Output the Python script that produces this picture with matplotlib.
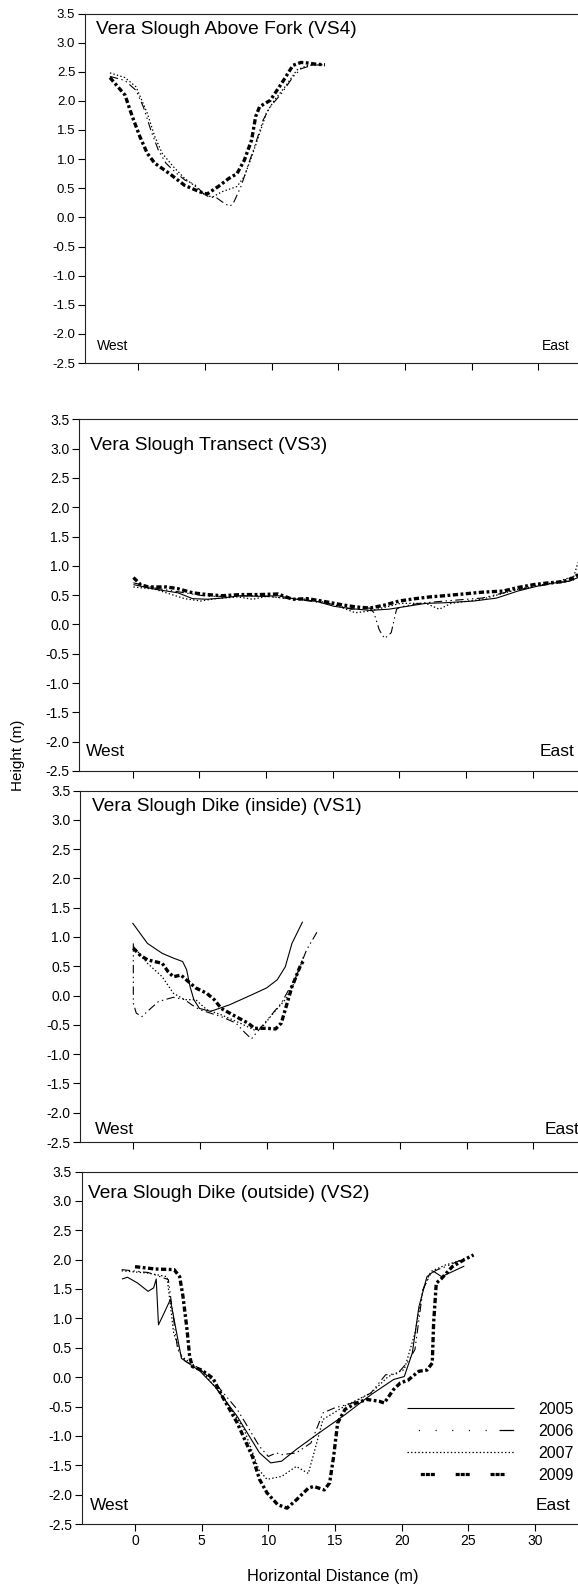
import matplotlib
matplotlib.use("Agg")
import matplotlib.pyplot as plt
from matplotlib.lines import Line2D

plt.rcParams['font.family'] = ['Liberation Sans', 'DejaVu Sans']
plt.rcParams['lines.scale_dashes'] = False

# ---------------- data ----------------
years = ['2005', '2006', '2007', '2009']

# Panel 1: Vera Slough Above Fork (VS4)
vs4_2006_x = [-2.13, -1.0, -0.17, 0.39, 0.95, 1.51, 2.07, 2.9, 3.5, 3.9, 4.3, 4.87, 5.3, 5.85, 6.27, 6.83, 7.1, 7.7, 8.2, 8.8, 9.36, 9.9, 10.75, 11.6, 12.2, 13.0, 13.8]
vs4_2006_y = [2.42, 2.35, 2.18, 1.89, 1.49, 1.15, 0.93, 0.75, 0.64, 0.60, 0.55, 0.41, 0.35, 0.34, 0.27, 0.19, 0.23, 0.53, 0.87, 1.27, 1.67, 1.90, 2.13, 2.41, 2.55, 2.61, 2.62]
vs4_2007_x = [-2.13, -1.0, -0.17, 0.67, 1.23, 1.79, 2.63, 3.47, 4.3, 5.0, 5.57, 6.27, 7.4, 7.95, 8.5, 9.1, 9.6, 10.2, 11.0, 11.9, 12.7, 13.8]
vs4_2007_y = [2.48, 2.40, 2.24, 1.79, 1.39, 1.10, 0.87, 0.67, 0.53, 0.38, 0.35, 0.44, 0.53, 0.70, 1.04, 1.44, 1.79, 2.01, 2.24, 2.53, 2.61, 2.62]
vs4_2009_x = [-2.13, -1.0, -0.45, 0.11, 0.67, 1.23, 2.35, 3.47, 4.6, 5.15, 6.0, 6.8, 7.4, 7.95, 8.5, 8.8, 9.1, 9.9, 10.75, 11.6, 12.2, 12.7, 13.3, 14.0]
vs4_2009_y = [2.40, 2.10, 1.73, 1.39, 1.10, 0.93, 0.75, 0.55, 0.44, 0.40, 0.53, 0.67, 0.75, 0.98, 1.33, 1.73, 1.90, 2.01, 2.30, 2.61, 2.66, 2.65, 2.63, 2.62]

# Panel 2: Vera Slough Transect (VS3)
vs3_2005_x = [0.06, 1.7, 3.4, 4.5, 5.6, 6.7, 8.1, 9.5, 10.9, 12.3, 13.7, 15.1, 16.4, 17.8, 19.2, 20.6, 22.0, 23.4, 25.6, 27.3, 28.9, 30.3, 31.7, 32.8, 33.6, 34.5]
vs3_2005_y = [0.68, 0.60, 0.54, 0.44, 0.43, 0.45, 0.49, 0.48, 0.49, 0.43, 0.40, 0.31, 0.27, 0.24, 0.26, 0.31, 0.36, 0.37, 0.40, 0.45, 0.57, 0.65, 0.71, 0.74, 0.82, 0.95]
vs3_2006_x = [0.06, 1.7, 3.9, 5.6, 6.7, 9.5, 12.3, 15.1, 16.4, 17.8, 18.1, 18.5, 18.9, 19.4, 19.8, 20.1, 21.5, 23.4, 26.2, 28.4, 30.3, 31.7, 33.0, 33.6, 34.5]
vs3_2006_y = [0.71, 0.62, 0.54, 0.48, 0.48, 0.49, 0.43, 0.34, 0.26, 0.28, 0.20, -0.09, -0.24, -0.14, 0.26, 0.30, 0.36, 0.40, 0.45, 0.57, 0.65, 0.70, 0.75, 0.83, 0.95]
vs3_2007_x = [0.06, 1.7, 3.9, 5.1, 6.2, 7.9, 9.0, 10.1, 11.7, 13.4, 15.1, 16.7, 17.8, 20.1, 22.0, 23.0, 23.9, 26.2, 28.9, 31.7, 33.1, 33.4, 34.0]
vs3_2007_y = [0.64, 0.60, 0.44, 0.40, 0.44, 0.47, 0.43, 0.48, 0.44, 0.43, 0.34, 0.20, 0.23, 0.36, 0.36, 0.26, 0.36, 0.43, 0.60, 0.72, 0.82, 1.05, 1.15]
vs3_2009_x = [0.06, 0.6, 1.17, 2.56, 3.4, 4.5, 5.6, 6.7, 8.1, 9.5, 10.9, 12.0, 13.1, 14.2, 15.6, 16.7, 17.8, 18.9, 20.0, 21.2, 22.3, 23.4, 24.8, 26.2, 27.8, 28.9, 30.1, 31.2, 32.3, 33.1, 33.6, 34.5]
vs3_2009_y = [0.80, 0.68, 0.64, 0.64, 0.61, 0.54, 0.51, 0.49, 0.51, 0.51, 0.52, 0.43, 0.44, 0.40, 0.34, 0.30, 0.28, 0.33, 0.40, 0.44, 0.47, 0.49, 0.52, 0.55, 0.57, 0.63, 0.68, 0.71, 0.73, 0.80, 0.88, 1.0]

# Panel 3: Vera Slough Dike (inside) (VS1)
vs1_2005_x = [-0.06, 1.06, 2.17, 3.0, 3.7, 4.0, 4.26, 4.54, 4.96, 5.8, 7.2, 8.86, 10.0, 10.8, 11.4, 11.9, 12.7]
vs1_2005_y = [1.24, 0.89, 0.72, 0.64, 0.58, 0.44, 0.15, -0.07, -0.22, -0.27, -0.16, 0.01, 0.13, 0.27, 0.49, 0.89, 1.26]
vs1_2006_x = [0.0, 0.0, 0.22, 0.64, 1.06, 1.9, 3.0, 3.84, 4.4, 4.96, 6.6, 7.7, 8.4, 8.86, 9.4, 10.25, 11.1, 12.2, 13.0, 13.8]
vs1_2006_y = [0.89, -0.13, -0.30, -0.36, -0.27, -0.10, -0.03, -0.07, -0.16, -0.24, -0.36, -0.47, -0.64, -0.74, -0.59, -0.36, -0.13, 0.32, 0.78, 1.09]
vs1_2007_x = [0.0, 1.06, 2.17, 3.0, 3.84, 4.68, 5.5, 6.6, 8.0, 9.1, 9.7, 10.5, 11.4, 12.2, 12.76]
vs1_2007_y = [0.84, 0.55, 0.32, 0.04, -0.07, -0.07, -0.24, -0.33, -0.47, -0.59, -0.53, -0.30, -0.07, 0.27, 0.66]
vs1_2009_x = [0.0, 0.5, 1.06, 1.6, 2.17, 2.6, 3.0, 3.57, 4.12, 4.68, 5.5, 6.07, 6.6, 7.7, 8.6, 9.1, 10.0, 10.67, 11.1, 11.4, 11.9, 12.5, 12.8]
vs1_2009_y = [0.81, 0.69, 0.61, 0.58, 0.55, 0.41, 0.32, 0.35, 0.24, 0.13, 0.04, -0.07, -0.22, -0.36, -0.47, -0.56, -0.56, -0.57, -0.47, -0.24, 0.15, 0.49, 0.61]

# Panel 4: Vera Slough Dike (outside) (VS2)
vs2_2005_x = [-0.98, -0.56, 0.2, 0.98, 1.4, 1.59, 1.76, 2.2, 2.65, 3.0, 3.48, 4.88, 5.99, 7.67, 9.34, 10.18, 11.0, 12.1, 13.8, 15.75, 17.7, 19.4, 20.2, 20.8, 21.3, 21.9, 22.4, 23.0, 24.7]
vs2_2005_y = [1.67, 1.70, 1.60, 1.46, 1.52, 1.67, 0.89, 1.10, 1.32, 0.90, 0.32, 0.10, -0.16, -0.67, -1.29, -1.46, -1.43, -1.23, -0.95, -0.64, -0.30, -0.04, 0.01, 0.41, 1.20, 1.71, 1.80, 1.71, 1.89]
vs2_2006_x = [-1.0, 1.0, 2.5, 2.7, 3.2, 3.76, 4.9, 6.0, 7.67, 9.34, 10.0, 10.6, 11.0, 12.1, 13.2, 14.1, 14.9, 16.3, 17.7, 18.8, 19.7, 20.5, 21.0, 21.6, 22.2, 22.7, 23.3, 24.7]
vs2_2006_y = [1.83, 1.78, 1.66, 1.32, 0.47, 0.27, 0.13, -0.10, -0.55, -1.18, -1.35, -1.29, -1.32, -1.29, -1.12, -0.61, -0.53, -0.44, -0.27, 0.04, 0.06, 0.27, 0.47, 1.49, 1.77, 1.83, 1.88, 2.02]
vs2_2007_x = [-1.0, 1.0, 2.4, 2.9, 3.5, 4.9, 6.6, 8.2, 9.3, 9.9, 11.0, 12.1, 13.0, 13.5, 14.1, 15.75, 17.7, 19.0, 20.2, 21.0, 21.6, 22.2, 23.3, 24.7]
vs2_2007_y = [1.81, 1.77, 1.71, 0.75, 0.35, 0.13, -0.33, -0.90, -1.58, -1.74, -1.69, -1.52, -1.64, -1.23, -0.72, -0.49, -0.27, 0.01, 0.13, 0.75, 1.49, 1.80, 1.91, 2.00]
vs2_2009_x = [0.0, 1.53, 2.93, 3.35, 3.6, 3.9, 4.1, 4.3, 5.0, 5.85, 6.55, 7.67, 8.8, 9.34, 9.9, 10.7, 11.4, 12.1, 13.0, 13.4, 14.2, 14.6, 14.9, 15.2, 15.75, 16.6, 17.4, 18.3, 18.7, 19.4, 19.9, 20.5, 20.8, 21.3, 21.9, 22.3, 22.4, 22.6, 23.0, 23.8, 24.7, 25.4]
vs2_2009_y = [1.88, 1.84, 1.83, 1.71, 1.37, 0.81, 0.35, 0.18, 0.12, -0.02, -0.33, -0.78, -1.35, -1.74, -1.97, -2.17, -2.23, -2.09, -1.89, -1.86, -1.92, -1.80, -1.35, -0.78, -0.55, -0.44, -0.38, -0.41, -0.44, -0.21, -0.10, -0.05, 0.01, 0.10, 0.12, 0.24, 0.92, 1.60, 1.68, 1.88, 2.00, 2.08]

titles = ['Vera Slough Above Fork (VS4)', 'Vera Slough Transect (VS3)',
          'Vera Slough Dike (inside) (VS1)', 'Vera Slough Dike (outside) (VS2)']
yticks = [-2.5, -2.0, -1.5, -1.0, -0.5, 0.0, 0.5, 1.0, 1.5, 2.0, 2.5, 3.0, 3.5]
xticks = [0, 5, 10, 15, 20, 25, 30]

panels = [
    {'2006': (vs4_2006_x, vs4_2006_y), '2007': (vs4_2007_x, vs4_2007_y), '2009': (vs4_2009_x, vs4_2009_y)},
    {'2005': (vs3_2005_x, vs3_2005_y), '2006': (vs3_2006_x, vs3_2006_y), '2007': (vs3_2007_x, vs3_2007_y), '2009': (vs3_2009_x, vs3_2009_y)},
    {'2005': (vs1_2005_x, vs1_2005_y), '2006': (vs1_2006_x, vs1_2006_y), '2007': (vs1_2007_x, vs1_2007_y), '2009': (vs1_2009_x, vs1_2009_y)},
    {'2005': (vs2_2005_x, vs2_2005_y), '2006': (vs2_2006_x, vs2_2006_y), '2007': (vs2_2007_x, vs2_2007_y), '2009': (vs2_2009_x, vs2_2009_y)},
]

# ---------------- styles ----------------
styles = {
    '2005': dict(lw=0.8, ls='-'),
    '2006': dict(lw=0.8, ls=(0, (6, 2.5, 1, 2.5, 1, 2.5))),
    '2007': dict(lw=0.9, ls=(0, (1, 1.6))),
    '2009': dict(lw=2.4, ls=(0, (3.8, 1.8, 2.0, 1.8))),
}
legend_styles = {
    '2005': dict(lw=0.8, ls='-'),
    '2006': dict(lw=0.9, ls=(68.6, (0.8, 11.2, 0.8, 11.2, 0.8, 11.2, 0.8, 11.2, 0.8, 9.3, 10.5, 8.2))),
    '2007': dict(lw=0.9, ls=(0, (1, 1.6))),
    '2009': dict(lw=2.3, ls=(15.5, (2.9, 0.7, 2.9, 0.7, 2.9, 15.0))),
}

W, H = 578, 1590
fig = plt.figure(figsize=(W / 100, H / 100), dpi=100)

px_per_unit = 13.33
xlo, xhi = -4, 35
# left, top, bottom in pixels
boxes = [(85, 13.5, 363), (79.3, 419.3, 771), (80, 790.5, 1142), (81.7, 1171.5, 1524)]
title_pos = [(96, 30), (90, 445), (92, 807), (88.5, 1193)]
west_pos = [(97, 346), (86, 751.7), (95, 1129), (90, 1505)]
east_x = [542, 540, 545, 536]
tick_fs = [9.5, 10, 10, 10]
we_fs = [10, 12.5, 12.5, 12.5]

axes = []
for i, (left, top, bot) in enumerate(boxes):
    wpx = (xhi - xlo) * px_per_unit
    ax = fig.add_axes([left / W, 1 - bot / H, wpx / W, (bot - top) / H])
    axes.append(ax)
    for yr in years:
        if yr in panels[i]:
            xs, ys = panels[i][yr]
            ax.plot(xs, ys, color='black', solid_capstyle='butt', dash_capstyle='butt', **styles[yr])
    ax.set_xlim(xlo, xhi)
    ax.set_ylim(-2.5, 3.5)
    ax.set_yticks(yticks)
    ax.set_yticklabels([f'{v:.1f}' for v in yticks])
    ax.set_xticks(xticks)
    if i == 3:
        ax.set_xticklabels([str(v) for v in xticks])
    else:
        ax.set_xticklabels([])
    ax.tick_params(direction='out', length=5, width=0.8, labelsize=tick_fs[i], pad=2, colors='black')
    for s in ax.spines.values():
        s.set_linewidth(0.8)
        s.set_color('#222222')
    hpx = bot - top
    def fx(X):
        return (X - left) / wpx
    def fy(Y):
        return (bot - Y) / hpx
    tx, ty = title_pos[i]
    ax.text(fx(tx), fy(ty), titles[i], transform=ax.transAxes, fontsize=13.8, ha='left', va='center')
    wx, wy = west_pos[i]
    ax.text(fx(wx), fy(wy), 'West', transform=ax.transAxes, fontsize=we_fs[i], ha='left', va='center')
    ax.text(fx(east_x[i]), fy(wy), 'East', transform=ax.transAxes, fontsize=we_fs[i], ha='left', va='center', clip_on=False)

# legend in bottom panel
ax4 = axes[3]
handles = [Line2D([], [], color='black', solid_capstyle='butt', dash_capstyle='butt', **legend_styles[yr]) for yr in years]
left, top, bot = boxes[3]
wpx = (xhi - xlo) * px_per_unit
hpx = bot - top
leg = ax4.legend(handles, years, loc='upper left',
                 bbox_to_anchor=((406.6 - left) / wpx, (bot - 1402) / hpx),
                 frameon=False, fontsize=11.5, handlelength=77 / 11.5, handletextpad=1.55,
                 labelspacing=0.43, borderpad=0, borderaxespad=0)

fig.text(18 / W, 1 - 755 / H, 'Height (m)', rotation=90, ha='center', va='center', fontsize=11)
fig.text(333 / W, 1 - 1577 / H, 'Horizontal Distance (m)', ha='center', va='center', fontsize=11.8)

fig.savefig('out.png', dpi=100)
